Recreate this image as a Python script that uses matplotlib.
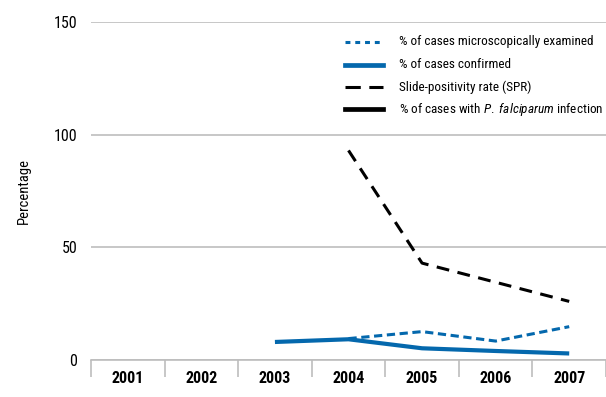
import matplotlib
matplotlib.use("Agg")
import matplotlib.pyplot as plt
from matplotlib.lines import Line2D
from matplotlib import font_manager as fm
import numpy as np

available = {f.name for f in fm.fontManager.ttflist}
FONT = 'DejaVu Sans'
for cand in ['Roboto Condensed', 'Archivo Narrow', 'PT Sans Narrow', 'Fira Sans Condensed',
             'IBM Plex Sans Condensed', 'Asap Condensed', 'Barlow Condensed']:
    if cand in available:
        FONT = cand
        break
plt.rcParams['font.family'] = [FONT, 'DejaVu Sans']
plt.rcParams['mathtext.fontset'] = 'custom'
plt.rcParams['mathtext.rm'] = FONT
plt.rcParams['mathtext.it'] = FONT + ':italic'

years = ['2001', '2002', '2003', '2004', '2005', '2006', '2007']
exam_years = ['2004', '2005', '2006', '2007']
exam_vals = [9.5, 12.6, 8.4, 14.8]
conf_years = ['2003', '2004', '2005', '2006', '2007']
conf_vals = [8.0, 9.2, 5.2, 4.0, 2.9]
spr_years = ['2004', '2005', '2006', '2007']
spr_vals = [93, 43, 34.5, 26]
yticks = [0, 50, 100, 150]
legend_labels = ['% of cases microscopically examined', '% of cases confirmed',
                 'Slide-positivity rate (SPR)', '% of cases with $\\mathit{P.\\ falciparum}$ infection']

BLUE = '#0468ad'
GRAY = '#bdbdbd'

W, H = 606, 397
fig = plt.figure(figsize=(W/100, H/100), dpi=100)
left, right, bottom, top = 91, 606, 360, 22
ax = fig.add_axes([left/W, 1-bottom/H, (right-left)/W, (bottom-top)/H])

idx = {y: i for i, y in enumerate(years)}
ax.plot([idx[y] for y in exam_years], exam_vals, color=BLUE, lw=2.2, ls=(0, (2.7, 1.5)))
ax.plot([idx[y] for y in conf_years], conf_vals, color=BLUE, lw=3.0, solid_capstyle='butt')
ax.plot([idx[y] for y in spr_years], spr_vals, color='black', lw=2.2, ls=(0, (4.2, 2.8)))

ax.set_ylim(0, 150)
ax.set_xlim(-0.5, -0.5 + (right-left)/75)
ax.set_yticks(yticks)
ax.set_yticklabels([str(v) for v in yticks], fontsize=11.5)
ax.yaxis.grid(True, color=GRAY, lw=1.2)
ax.set_axisbelow(True)
ax.tick_params(axis='y', length=0, pad=10)

ax.set_xticks(range(len(years)))
ax.set_xticklabels(years, fontsize=11.5, fontweight='bold')
ax.set_xticks(np.arange(-0.5, len(years), 1), minor=True)
ax.tick_params(axis='x', which='major', length=0, pad=8)
ax.tick_params(axis='x', which='minor', length=12, width=1.2, color=GRAY, direction='out')

for s in ['left', 'right', 'top']:
    ax.spines[s].set_visible(False)
ax.spines['bottom'].set_color(GRAY)
ax.spines['bottom'].set_linewidth(1.2)

ax.set_ylabel('Percentage', fontsize=10.5, labelpad=16)

# legend, positioned in figure pixels
handle_styles = [
    dict(color=BLUE, lw=2.2, ls=(0, (1.6, 1.6))),
    dict(color=BLUE, lw=3.4),
    dict(color='black', lw=2.2, ls=(0, (5, 2.8))),
    dict(color='black', lw=3.4),
]
rows_y = [42, 64.5, 87, 109]
for yy, st, lab in zip(rows_y, handle_styles, legend_labels):
    fy = 1 - yy/H
    fig.add_artist(Line2D([345/W, 383/W], [fy, fy], transform=fig.transFigure, **st))
    fig.text(399/W, fy, lab, fontsize=9.5, va='center', ha='left')

fig.savefig('out.png', dpi=100)
